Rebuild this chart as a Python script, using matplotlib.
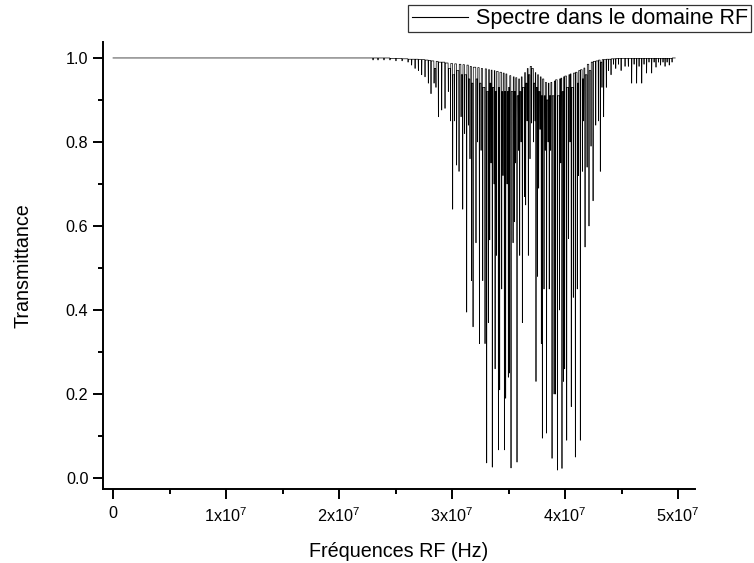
import numpy as np
import matplotlib
matplotlib.use("Agg")
import matplotlib.pyplot as plt
from matplotlib.ticker import MultipleLocator, FixedLocator, FormatStrFormatter

plt.rcParams['font.family'] = ['Liberation Sans', 'DejaVu Sans']
plt.rcParams['mathtext.fontset'] = 'custom'
plt.rcParams['mathtext.rm'] = 'Liberation Sans'
plt.rcParams['mathtext.default'] = 'regular'

# ---- data (frequencies in MHz, transmittance) ----
dip_mhz = [23.01, 23.45, 23.98, 24.51, 25.04, 25.58, 26.11, 26.43, 26.73, 27.02,
           27.32, 27.61, 27.90, 28.14, 28.41, 28.58, 28.79, 29.09, 29.38, 29.67,
           29.87, 30.06, 30.22, 30.41, 30.62, 30.80, 30.95, 31.12, 31.30, 31.46,
           31.59, 31.73, 31.86, 32.12, 32.26, 32.42, 32.57, 32.72, 32.92, 33.07,
           33.21, 33.34, 33.45, 33.56, 33.72, 33.81, 33.92, 34.10, 34.22, 34.40,
           34.51, 34.63, 34.75, 34.87, 34.98, 35.09, 35.22, 35.40, 35.51, 35.62,
           35.75, 35.88, 35.99, 36.11, 36.22, 36.40, 36.52, 36.64, 36.75, 36.90,
           37.05, 37.22, 37.35, 37.43, 37.55, 37.67, 37.79, 37.90, 37.99, 38.14,
           38.25, 38.37, 38.50, 38.60, 38.73, 38.85, 39.03, 39.14, 39.32, 39.50,
           39.62, 39.73, 39.85, 39.97, 40.15, 40.32, 40.44, 40.55, 40.73, 40.91,
           41.08, 41.19, 41.35, 41.53, 41.65, 41.77, 41.95, 42.12, 42.30, 42.48,
           42.72, 42.95, 43.12, 43.27, 43.42, 43.65, 43.85, 44.07, 44.29, 44.49,
           44.73, 44.96, 45.31, 45.60, 45.90, 46.11, 46.34, 46.55, 46.79, 46.99,
           47.22, 47.43, 47.67, 47.88, 48.05, 48.27, 48.46, 48.67, 48.85, 49.03,
           49.22, 49.47]
dip_min = [.995, .995, .995, .995, .993, .993, .99, .983, .975, .97,
           .96, .955, .94, .915, .94, .93, .86, .876, .88, .92,
           .85, .64, .85, .745, .73, .86, .64, .82, .395, .84,
           .76, .47, .36, .56, .80, .32, .78, .47, .32, .036,
           .37, .567, .75, .026, .70, .26, .53, .067, .21, .45,
           .72, .067, .19, .70, .24, .25, .024, .56, .61, .75,
           .038, .78, .53, .80, .37, .67, .65, .85, .53, .76,
           .845, .80, .85, .23, .48, .69, .83, .32, .095, .45,
           .78, .107, .80, .45, .78, .047, .20, .20, .019, .40,
           .75, .023, .23, .26, .09, .57, .80, .17, .43, .05,
           .45, .72, .09, .73, .85, .55, .74, .60, .79, .66,
           .84, .85, .73, .93, .86, .93, .97, .96, .985, .975,
           .985, .97, .98, .98, .94, .985, .94, .98, .94, .985,
           .964, .99, .964, .99, .978, .99, .983, .99, .98, .99,
           .983, .99]
peak_before = [1.0, 1.0, 1.0, 1.0, .999, .999, .998, .997, .997, .997,
               .996, .996, .995, .994, .993, .975, .992, .99, .99, .988,
               .975, .987, .96, .986, .97, .985, .96, .984, .96, .983,
               .95, .98, .94, .978, .95, .977, .94, .975, .93, .974,
               .92, .972, .94, .971, .93, .97, .92, .968, .93, .966,
               .92, .964, .92, .962, .92, .93, .958, .92, .955, .92,
               .953, .91, .95, .92, .955, .93, .965, .94, .975, .96,
               .98, .975, .94, .965, .93, .96, .92, .955, .91, .95,
               .91, .942, .90, .94, .91, .942, .91, .945, .948, .91,
               .95, .952, .92, .955, .957, .93, .96, .962, .93, .964,
               .966, .94, .97, .972, .95, .976, .96, .985, .97, .99,
               .992, .993, .995, .99, .996, .996, .997, .997, .998, .998,
               .999, .999, .999, .999, .999, .999, .999, .999, .999, .999,
               .999, .999, .999, .999, .999, .999, .999, .999, .999, .999,
               .999, .999]
start_mhz, end_mhz = 0.0, 49.75
legend_label = "Spectre dans le domaine RF"
xtick_vals = [0, 1e7, 2e7, 3e7, 4e7, 5e7]
xtick_labels = ["0", r"1x10$^{7}$", r"2x10$^{7}$", r"3x10$^{7}$", r"4x10$^{7}$", r"5x10$^{7}$"]

# ---- build the trace: narrow dips between flat tops ----
half_width = 0.02  # MHz, drawing width of each dip
xs = [start_mhz]
ys = [1.0]
n = len(dip_mhz)
for i, (f, d, p) in enumerate(zip(dip_mhz, dip_min, peak_before)):
    nxt = peak_before[i + 1] if i + 1 < n else 1.0
    xs += [f - half_width, f, f + half_width]
    ys += [p, d, nxt]
xs.append(end_mhz); ys.append(1.0)
xs = np.array(xs) * 1e6
ys = np.array(ys)

# ---- figure ----
fig = plt.figure(figsize=(7.54, 5.63), dpi=100)
ax = fig.add_axes([103/754, 1 - 489/563, (695 - 103)/754, (489 - 42)/563])
line, = ax.plot(xs, ys, color='black', lw=0.5, label=legend_label)

ax.set_xlim(-8.85e5, 5.15e7)
ax.set_ylim(-0.026, 1.038)
for s in ('top', 'right'):
    ax.spines[s].set_visible(False)
for s in ('left', 'bottom'):
    ax.spines[s].set_linewidth(1.4)

ax.xaxis.set_major_locator(FixedLocator(xtick_vals))
ax.set_xticklabels(xtick_labels)
ax.xaxis.set_minor_locator(MultipleLocator(5e6))
ax.yaxis.set_major_locator(MultipleLocator(0.2))
ax.yaxis.set_minor_locator(MultipleLocator(0.1))
ax.yaxis.set_major_formatter(FormatStrFormatter('%.1f'))
ax.tick_params(which='major', direction='out', length=7, width=1.4, labelsize=11.7)
ax.tick_params(axis='y', which='major', pad=3.5)
ax.tick_params(axis='x', which='major', pad=5.5)
ax.tick_params(which='minor', direction='out', length=3.5, width=1.4)

ax.set_xlabel("Fréquences RF (Hz)", fontsize=14.2, labelpad=12)
ax.set_ylabel("Transmittance", fontsize=14.2, labelpad=24)

leg = fig.legend(handles=[line], loc='upper right',
                 bbox_to_anchor=(751/754, 1 - 5/563), bbox_transform=fig.transFigure,
                 fancybox=False, framealpha=1, edgecolor='#333333', fontsize=15.5,
                 handlelength=2.6, borderpad=0.15, handletextpad=0.37, borderaxespad=0)
leg.get_frame().set_linewidth(0.9)
for h in leg.get_lines():
    h.set_linewidth(0.8)

fig.savefig("out.png", dpi=100)
